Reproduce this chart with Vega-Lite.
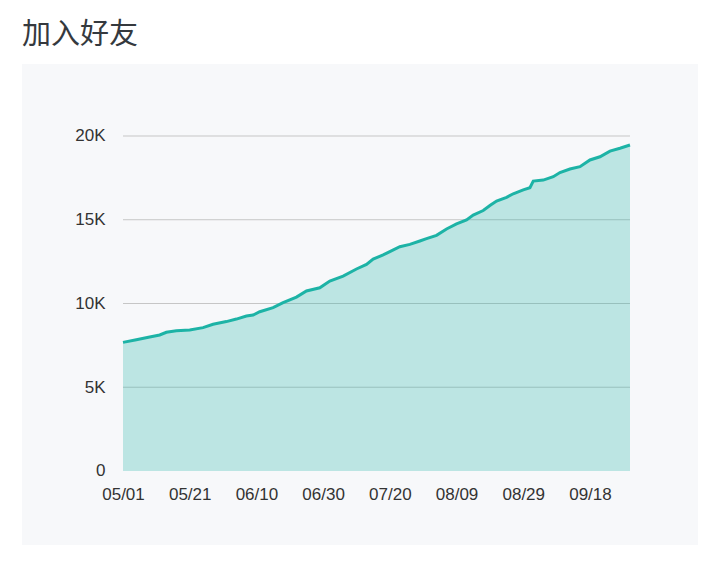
{
  "$schema": "https://vega.github.io/schema/vega-lite/v6.json",
  "autosize": "none",
  "padding": {"left": 22, "top": 64, "right": 23, "bottom": 25},
  "width": 676,
  "height": 481,
  "background": "white",
  "config": {
    "view": {"fill": "#f7f8fa", "stroke": null},
    "axis": {"labelFont": "Liberation Sans", "labelFontSize": 17, "labelColor": "#333333"}
  },
  "title": {
    "text": "加入好友",
    "anchor": "start",
    "font": "Noto Sans CJK SC",
    "fontSize": 29,
    "fontWeight": "normal",
    "color": "#35393e",
    "baseline": "alphabetic",
    "offset": 22,
    "dy": 31
  },
  "datasets": {
    "friends": [
      {"date": "2023-05-01", "count": 7680},
      {"date": "2023-05-05", "count": 7840},
      {"date": "2023-05-09", "count": 8000},
      {"date": "2023-05-12", "count": 8120},
      {"date": "2023-05-14", "count": 8280},
      {"date": "2023-05-17", "count": 8370},
      {"date": "2023-05-21", "count": 8420},
      {"date": "2023-05-25", "count": 8560},
      {"date": "2023-05-28", "count": 8760},
      {"date": "2023-06-01", "count": 8920},
      {"date": "2023-06-04", "count": 9070},
      {"date": "2023-06-07", "count": 9250},
      {"date": "2023-06-09", "count": 9310},
      {"date": "2023-06-11", "count": 9510},
      {"date": "2023-06-15", "count": 9750},
      {"date": "2023-06-18", "count": 10050},
      {"date": "2023-06-22", "count": 10380},
      {"date": "2023-06-25", "count": 10750},
      {"date": "2023-06-29", "count": 10940},
      {"date": "2023-07-02", "count": 11340},
      {"date": "2023-07-06", "count": 11640},
      {"date": "2023-07-10", "count": 12060},
      {"date": "2023-07-13", "count": 12330},
      {"date": "2023-07-15", "count": 12650},
      {"date": "2023-07-18", "count": 12900},
      {"date": "2023-07-20", "count": 13100},
      {"date": "2023-07-23", "count": 13390},
      {"date": "2023-07-26", "count": 13530},
      {"date": "2023-07-29", "count": 13730},
      {"date": "2023-07-31", "count": 13870},
      {"date": "2023-08-03", "count": 14070},
      {"date": "2023-08-06", "count": 14450},
      {"date": "2023-08-09", "count": 14750},
      {"date": "2023-08-12", "count": 14990},
      {"date": "2023-08-14", "count": 15280},
      {"date": "2023-08-17", "count": 15550},
      {"date": "2023-08-19", "count": 15850},
      {"date": "2023-08-21", "count": 16120},
      {"date": "2023-08-24", "count": 16340},
      {"date": "2023-08-26", "count": 16550},
      {"date": "2023-08-29", "count": 16780},
      {"date": "2023-08-31", "count": 16910},
      {"date": "2023-09-01", "count": 17310},
      {"date": "2023-09-04", "count": 17370},
      {"date": "2023-09-07", "count": 17570},
      {"date": "2023-09-09", "count": 17820},
      {"date": "2023-09-12", "count": 18030},
      {"date": "2023-09-15", "count": 18170},
      {"date": "2023-09-18", "count": 18570},
      {"date": "2023-09-21", "count": 18760},
      {"date": "2023-09-24", "count": 19100},
      {"date": "2023-09-27", "count": 19270},
      {"date": "2023-09-30", "count": 19460}
    ],
    "grid": [{"v": 5000}, {"v": 10000}, {"v": 15000}, {"v": 20000}]
  },
  "layer": [
    {
      "data": {"name": "grid"},
      "mark": {"type": "rule", "color": "#c6c6c6", "strokeWidth": 1},
      "encoding": {
        "y": {"field": "v", "type": "quantitative", "scale": {"domain": [-4418, 24298.5], "nice": false, "zero": false}},
        "x": {"datum": {"year": 2023, "month": 5, "date": 1, "utc": true}, "type": "temporal", "scale": {"type": "utc", "domain": [1680283008000, 1697793696000], "nice": false}},
        "x2": {"datum": {"year": 2023, "month": 9, "date": 30, "utc": true}}
      }
    },
    {
      "data": {"name": "friends"},
      "mark": {"type": "area", "color": "#1db3a6", "fillOpacity": 0.27},
      "encoding": {
        "x": {
          "field": "date", "type": "temporal",
          "scale": {"type": "utc", "domain": [1680283008000, 1697793696000], "nice": false},
          "axis": {
            "values": [
              {"year": 2023, "month": 5, "date": 1, "utc": true},
              {"year": 2023, "month": 5, "date": 21, "utc": true},
              {"year": 2023, "month": 6, "date": 10, "utc": true},
              {"year": 2023, "month": 6, "date": 30, "utc": true},
              {"year": 2023, "month": 7, "date": 20, "utc": true},
              {"year": 2023, "month": 8, "date": 9, "utc": true},
              {"year": 2023, "month": 8, "date": 29, "utc": true},
              {"year": 2023, "month": 9, "date": 18, "utc": true}
            ],
            "format": "%m/%d",
            "domain": false, "ticks": false, "grid": false,
            "labelPadding": 15, "offset": -74, "title": null,
            "labelFlush": false, "labelOverlap": false
          }
        },
        "y": {
          "field": "count", "type": "quantitative",
          "scale": {"domain": [-4418, 24298.5], "nice": false, "zero": false},
          "axis": {
            "values": [0, 5000, 10000, 15000, 20000],
            "labelExpr": "datum.value == 0 ? '0' : (datum.value / 1000) + 'K'",
            "domain": false, "ticks": false, "grid": false,
            "labelPadding": 18, "offset": -101, "title": null
          }
        },
        "y2": {"datum": 0}
      }
    },
    {
      "data": {"name": "friends"},
      "mark": {"type": "line", "color": "#1db3a6", "strokeWidth": 3},
      "encoding": {
        "x": {"field": "date", "type": "temporal", "scale": {"type": "utc", "domain": [1680283008000, 1697793696000], "nice": false}},
        "y": {"field": "count", "type": "quantitative", "scale": {"domain": [-4418, 24298.5], "nice": false, "zero": false}}
      }
    },
    {
      "mark": {"type": "rule", "color": "#333333", "strokeWidth": 2},
      "encoding": {
        "y": {"datum": 0, "type": "quantitative", "scale": {"domain": [-4418, 24298.5], "nice": false, "zero": false}},
        "x": {"datum": {"year": 2023, "month": 5, "date": 1, "utc": true}, "type": "temporal", "scale": {"type": "utc", "domain": [1680283008000, 1697793696000], "nice": false}},
        "x2": {"datum": {"year": 2023, "month": 9, "date": 30, "utc": true}}
      }
    }
  ]
}
